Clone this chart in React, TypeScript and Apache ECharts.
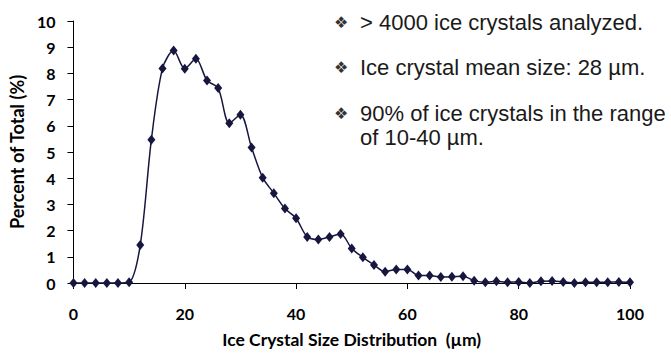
import React, { useEffect, useRef } from "react";
import * as echarts from "echarts";

const sizes = [0,2,4,6,8,10,12,14,16,18,20,22,24,26,28,30,32,34,36,38,40,42,44,46,48,50,52,54,56,58,60,62,64,66,68,70,72,74,76,78,80,82,84,86,88,90,92,94,96,98,100];
const percents = [0,0,0,0,0,0.03,1.45,5.47,8.19,8.87,8.18,8.56,7.73,7.44,6.1,6.42,5.17,4.02,3.43,2.84,2.47,1.76,1.66,1.76,1.87,1.32,0.98,0.69,0.43,0.52,0.52,0.29,0.29,0.23,0.24,0.26,0.09,0.03,0.07,0.03,0.04,0,0.07,0.08,0.04,0,0.03,0.03,0.03,0.04,0.03];
const notes = ["> 4000 ice crystals analyzed.", "Ice crystal mean size: 28 µm.", "90% of ice crystals in the range", "of 10-40 µm."];
const bulletRows = [0, 1, 2];

export default function App() {
  const ref = useRef<HTMLDivElement>(null);
  useEffect(() => {
    const chart = echarts.init(ref.current!, null, { renderer: "svg" });
    const noteY = [22, 67, 113, 137];
    const graphic: any[] = [];
    notes.forEach((t, i) => {
      graphic.push({
        type: "text", x: 360, y: noteY[i],
        style: { text: t, fontFamily: "Liberation Sans", fontSize: 22, fill: "#1a1a1a", verticalAlign: "middle" },
      });
    });
    bulletRows.forEach((i) => {
      graphic.push({
        type: "text", x: 334, y: noteY[i],
        style: { text: "❖", fontFamily: "DejaVu Sans", fontSize: 16, fill: "#333", verticalAlign: "middle" },
      });
    });
    chart.setOption({
      animation: false,
      grid: { left: 72, right: 41, top: 21, bottom: 66, containLabel: false },
      xAxis: {
        type: "value", min: 0, max: 100, interval: 20,
        name: "Ice Crystal Size Distribution  (µm)", nameLocation: "middle", nameGap: 47,
        nameTextStyle: { fontFamily: "Lato", fontWeight: "bold", fontSize: 17.5, color: "#000" },
        axisLine: { lineStyle: { color: "#000", width: 1 } },
        axisTick: { show: true, length: 6, lineStyle: { color: "#000" } },
        axisLabel: { margin: 22, fontFamily: "Lato", fontWeight: "bold", fontSize: 16, color: "#000" },
        splitLine: { show: false },
      },
      yAxis: {
        type: "value", min: 0, max: 10, interval: 1,
        name: "Percent of Total (%)", nameLocation: "middle", nameGap: 44,
        nameTextStyle: { fontFamily: "Lato", fontWeight: "bold", fontSize: 18, color: "#000" },
        axisLine: { show: true, lineStyle: { color: "#000", width: 1 } },
        axisTick: { show: true, length: 6, lineStyle: { color: "#000" } },
        axisLabel: { margin: 18, fontFamily: "Lato", fontWeight: "bold", fontSize: 16, color: "#000" },
        splitLine: { show: false },
      },
      series: [{
        type: "line",
        data: sizes.map((s, i) => [s, percents[i]]),
        smooth: 0.3,
        symbol: "diamond", symbolSize: [8, 10],
        lineStyle: { color: "#16163f", width: 1.5 },
        itemStyle: { color: "#16163f" },
      }],
      graphic,
    });
    return () => chart.dispose();
  }, []);
  return <div ref={ref} style={{ width: 671, height: 353, position: "absolute", left: 0, top: 0 }} />;
}
